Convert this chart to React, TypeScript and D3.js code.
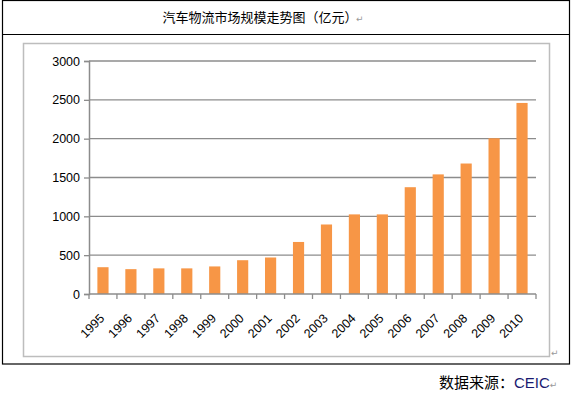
import React, { useEffect, useRef } from 'react';
import * as d3 from 'd3';

const years = ['1995', '1996', '1997', '1998', '1999', '2000', '2001', '2002', '2003', '2004', '2005', '2006', '2007', '2008', '2009', '2010'];
const sizes = [345, 320, 330, 330, 355, 435, 470, 670, 895, 1025, 1025, 1375, 1540, 1680, 2005, 2460];
const yTicks = [0, 500, 1000, 1500, 2000, 2500, 3000];

const title = '汽车物流市场规模走势图（亿元）';
const sourceLabel = '数据来源：';
const sourceName = 'CEIC';

export default function App() {
  const ref = useRef<SVGSVGElement>(null);

  useEffect(() => {
    const svg = d3.select(ref.current);
    svg.selectAll('*').remove();

    const left = 89, right = 536, top = 61, bottom = 294;

    // table frame
    const table = svg.append('g').attr('stroke', '#000').attr('stroke-width', 1.2);
    table.append('rect').attr('x', 2.5).attr('y', 0.5).attr('width', 567).attr('height', 363.5).attr('fill', 'none');
    table.append('line').attr('x1', 2.5).attr('x2', 569.5).attr('y1', 34.5).attr('y2', 34.5);

    svg.append('text')
      .attr('x', 260).attr('y', 22)
      .attr('text-anchor', 'middle')
      .attr('font-family', '"Noto Sans CJK SC", sans-serif')
      .attr('font-size', 13)
      .attr('fill', '#000')
      .text(title);
    svg.append('text')
      .attr('x', 356).attr('y', 22)
      .attr('font-size', 9).attr('fill', '#999')
      .attr('font-family', 'DejaVu Sans')
      .text('↵');

    // chart area frame
    svg.append('rect')
      .attr('x', 23.5).attr('y', 43.5).attr('width', 526).attr('height', 313)
      .attr('fill', '#fff').attr('stroke', '#bdbdbd').attr('stroke-width', 1.5);
    svg.append('text')
      .attr('x', 551).attr('y', 356)
      .attr('font-size', 9).attr('fill', '#999')
      .attr('font-family', 'DejaVu Sans')
      .text('↵');

    const x = d3.scaleBand().domain(years).range([left, right]).paddingInner(0.6).paddingOuter(0.3);
    const y = d3.scaleLinear().domain([0, 3000]).range([bottom, top]);

    // gridlines
    svg.append('g')
      .selectAll('line')
      .data(yTicks.filter((t) => t > 0))
      .join('line')
      .attr('x1', left).attr('x2', right)
      .attr('y1', (d) => y(d)).attr('y2', (d) => y(d))
      .attr('stroke', '#8c8c8c').attr('stroke-width', 1.3);

    // bars
    svg.append('g')
      .attr('fill', '#f79646')
      .selectAll('rect')
      .data(sizes)
      .join('rect')
      .attr('x', (_, i) => x(years[i])!)
      .attr('width', x.bandwidth())
      .attr('y', (d) => y(d))
      .attr('height', (d) => y(0) - y(d));

    // y axis
    const yAxis = svg.append('g').attr('transform', `translate(${left},0)`)
      .call(d3.axisLeft(y).tickValues(yTicks).tickSize(5).tickPadding(4).tickFormat(d3.format('d')));
    yAxis.select('.domain').attr('stroke', '#8c8c8c').attr('stroke-width', 1.5);
    yAxis.selectAll('.tick line').attr('stroke', '#8c8c8c').attr('stroke-width', 1.3);
    yAxis.selectAll('.tick text')
      .attr('font-family', '"Liberation Sans", Arial, sans-serif')
      .attr('font-size', 12.5).attr('fill', '#000');

    // x axis: ticks sit between categories
    const bounds = d3.range(years.length + 1).map((i) => left + (right - left) * i / years.length);
    const xg = svg.append('g');
    xg.append('line').attr('x1', left).attr('x2', right).attr('y1', bottom).attr('y2', bottom)
      .attr('stroke', '#8c8c8c').attr('stroke-width', 1.5);
    xg.selectAll('line.tk').data(bounds).join('line').attr('class', 'tk')
      .attr('x1', (d) => d).attr('x2', (d) => d).attr('y1', bottom).attr('y2', bottom + 5)
      .attr('stroke', '#8c8c8c').attr('stroke-width', 1.3);
    xg.selectAll('text').data(years).join('text')
      .attr('transform', (d) => `translate(${x(d)! + x.bandwidth() / 2 - 1},${bottom + 22}) rotate(-45)`)
      .attr('text-anchor', 'end')
      .attr('dy', '0.35em')
      .attr('font-family', '"Liberation Sans", Arial, sans-serif')
      .attr('font-size', 12.5).attr('fill', '#000')
      .text((d) => d);

    // source
    const src = svg.append('text')
      .attr('x', 439).attr('y', 388)
      .attr('font-family', '"Noto Sans CJK SC", sans-serif')
      .attr('font-size', 15);
    src.append('tspan').attr('fill', '#000').text(sourceLabel);
    src.append('tspan').attr('fill', '#1a1a70').attr('font-family', '"Liberation Sans", Arial, sans-serif').text(sourceName);
    src.append('tspan').attr('fill', '#999').attr('font-size', 9).attr('font-family', 'DejaVu Sans').text('↵');
  }, []);

  return (
    <svg
      ref={ref}
      width={571}
      height={394}
      style={{ position: 'absolute', left: 0, top: 0, background: '#fff' }}
    />
  );
}
